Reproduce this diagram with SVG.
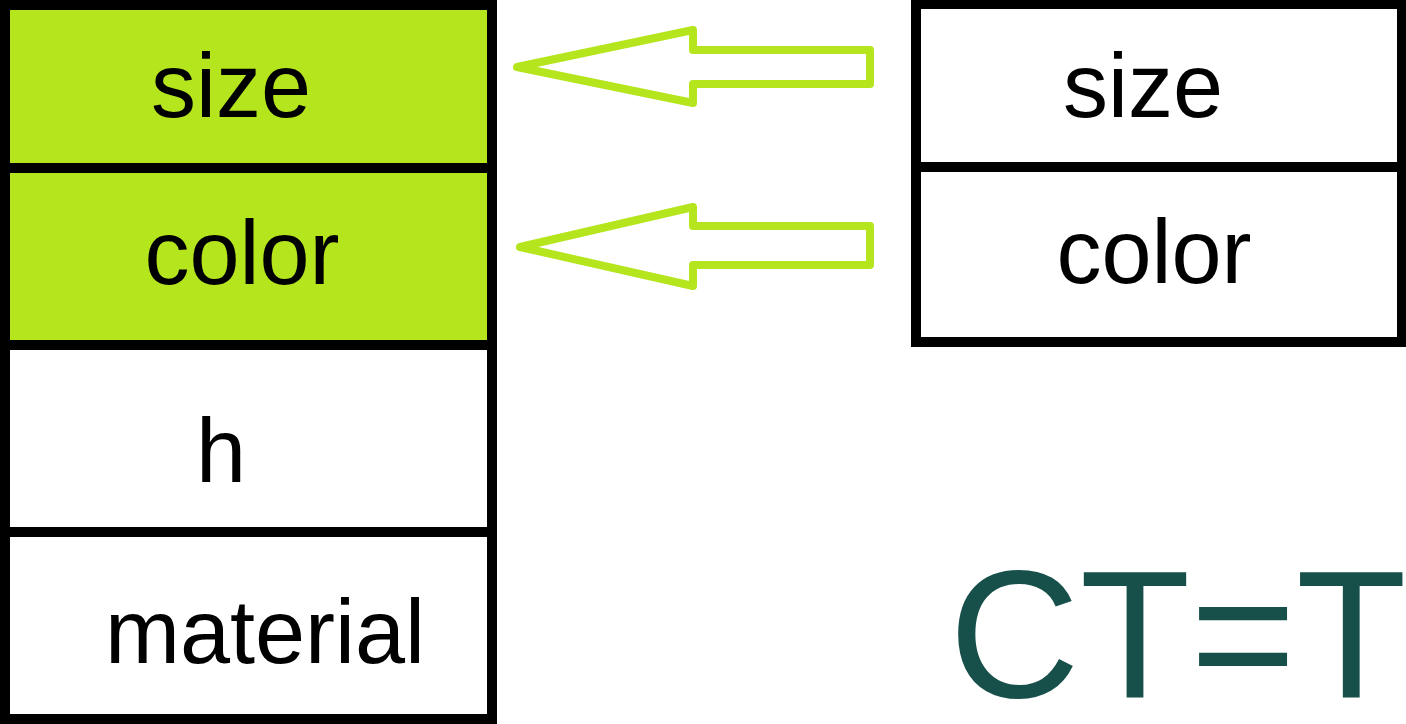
<svg xmlns="http://www.w3.org/2000/svg" width="1406" height="724" viewBox="0 0 1406 724">
<style>
.cell{stroke:#000;stroke-width:10}
.on{fill:#B5E51D}
.off{fill:#fff}
.lbl{font-family:"Liberation Sans",Arial,sans-serif;font-size:90px;fill:#000;text-anchor:middle}
.arrow{fill:none;stroke:#B5E51D;stroke-width:8;stroke-linejoin:round}
.eq{font-family:"Liberation Sans",Arial,sans-serif;font-size:181px;fill:#17504A}
</style>
<rect width="1406" height="724" fill="#fff"/>
<g id="left-size"><rect class="cell on" x="5" y="5" width="487" height="163"/><text class="lbl" x="231" y="117">size</text></g>
<g id="left-color"><rect class="cell on" x="5" y="168" width="487" height="177"/><text class="lbl" x="242" y="284">color</text></g>
<g id="left-h"><rect class="cell off" x="5" y="345" width="487" height="187"/><text class="lbl" x="221" y="482">h</text></g>
<g id="left-material"><rect class="cell off" x="5" y="532" width="487" height="187"/><text class="lbl" x="265" y="663">material</text></g>
<g id="right-size"><rect class="cell off" x="916" y="4" width="486" height="163"/><text class="lbl" x="1143" y="117">size</text></g>
<g id="right-color"><rect class="cell off" x="916" y="167" width="486" height="175"/><text class="lbl" x="1154" y="283">color</text></g>
<g id="connectors">
<path class="arrow" d="M517,67 L693,30 L693,50 L870,50 L870,84 L693,84 L693,103 Z"/>
<path class="arrow" d="M520,247 L693,207 L693,226 L870,226 L870,265 L693,265 L693,286 Z"/>
</g>
<g id="equation"><text class="eq" x="949" y="697">CT=T</text></g>
</svg>
